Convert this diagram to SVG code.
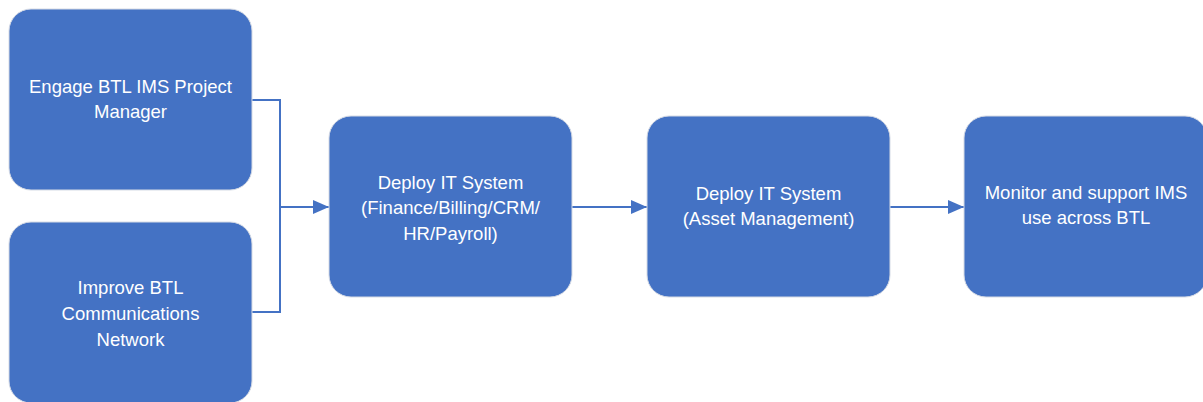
<svg xmlns="http://www.w3.org/2000/svg" width="1203" height="402" viewBox="0 0 1203 402">
<defs>
<style>
.box{fill:#4472C4;stroke:#d6dbe5;stroke-width:1}
.lbl{fill:#ffffff;font-family:"Liberation Sans",Arial,sans-serif;font-size:18.5px;text-anchor:middle}
.con{fill:none;stroke:#4472C4;stroke-width:2}
</style>
<marker id="arr" markerWidth="8" markerHeight="8" refX="8" refY="4" orient="auto" markerUnits="userSpaceOnUse" viewBox="0 0 8 8">
<path d="M0,0 L8,4 L0,8 Z" fill="#4472C4"/>
</marker>
<marker id="arrh" markerWidth="16" markerHeight="14" refX="16" refY="7" orient="auto" markerUnits="userSpaceOnUse" viewBox="0 0 16 14">
<path d="M0,0 L16,7 L0,14 Z" fill="#4472C4"/>
</marker>
</defs>
<rect width="1203" height="402" fill="#ffffff"/>
<g id="connectors">
<path class="con" d="M252,100 H280 V312 H252"/>
<path class="con" d="M280,207 H329" marker-end="url(#arrh)"/>
<path class="con" d="M572,207 H647" marker-end="url(#arrh)"/>
<path class="con" d="M890,207 H964" marker-end="url(#arrh)"/>
</g>
<g id="node1">
<rect class="box" x="9" y="9" width="243" height="181" rx="22"/>
<text class="lbl" x="130.5" y="93">Engage BTL IMS Project</text>
<text class="lbl" x="130.5" y="118">Manager</text>
</g>
<g id="node2">
<rect class="box" x="9" y="222" width="243" height="181" rx="22"/>
<text class="lbl" x="130.5" y="294">Improve BTL</text>
<text class="lbl" x="130.5" y="320">Communications</text>
<text class="lbl" x="130.5" y="346">Network</text>
</g>
<g id="node3">
<rect class="box" x="329" y="116" width="243" height="181" rx="22"/>
<text class="lbl" x="450.5" y="189">Deploy IT System</text>
<text class="lbl" x="450.5" y="214">(Finance/Billing/CRM/</text>
<text class="lbl" x="450.5" y="240">HR/Payroll)</text>
</g>
<g id="node4">
<rect class="box" x="647" y="116" width="243" height="181" rx="22"/>
<text class="lbl" x="768.5" y="200">Deploy IT System</text>
<text class="lbl" x="768.5" y="225">(Asset Management)</text>
</g>
<g id="node5">
<rect class="box" x="964" y="116" width="243" height="181" rx="22"/>
<text class="lbl" x="1086" y="199">Monitor and support IMS</text>
<text class="lbl" x="1086" y="224">use across BTL</text>
</g>
</svg>
